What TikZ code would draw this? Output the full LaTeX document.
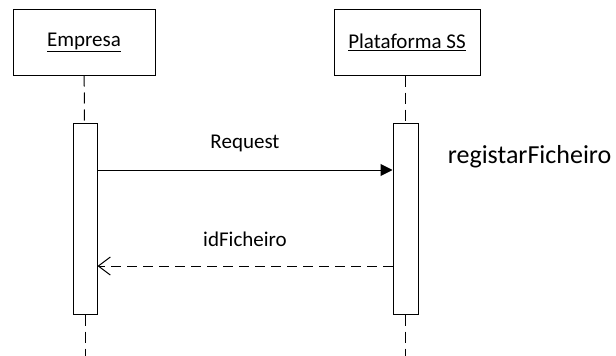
\documentclass[tikz,border=0pt]{standalone}
\usepackage{fontspec}
\setmainfont{Carlito}
\usetikzlibrary{arrows.meta,positioning}
\tikzset{
    actor/.style = {draw, rectangle,
        minimum width=142pt,
        minimum height=66pt, align=center, font=\fontsize{21}{24}\selectfont},
    activation/.style = {draw, rectangle, fill=white,
        minimum width=24pt, minimum height=191pt},
    lifeline/.style = {draw, dash pattern=on 11pt off 6pt},
    msg/.style = {font=\fontsize{21}{24}\selectfont},
    call/.style = {draw, -{Triangle[length=12pt,width=12pt]}},
    reply/.style = {draw, dash pattern=on 10pt off 6pt, -{Straight Barb[length=12pt,width=18pt]}}
}

\begin{document}
\begin{tikzpicture}[x=1pt, y=-1pt, line width=1pt]
        \useasboundingbox (0,0) rectangle (616,356);
        % participants
        \node [actor] (empresa) at (84,42) {\underline{Empresa}};
        \node [actor, minimum width=146pt] (plataforma) at (407,42) {\underline{Plataforma SS}};
        % activation bars
        \node [activation] (actE) at (85,218.5) {};
        \node [activation, minimum width=25pt] (actP) at (405.5,218.5) {};
        \coordinate (endE) at (85,356);
        \coordinate (endP) at (405.5,356);
        % lifelines
        \draw [lifeline] (empresa) -- (actE);
        \draw [lifeline] (actE) -- (endE);
        \draw [lifeline] (plataforma.south -| actP) -- (actP);
        \draw [lifeline] (actP) -- (endP);
        % messages
        \draw [call] ([yshift=48.5pt]actE.east) -- ([yshift=48.5pt]actP.west);
        \node [msg] (lblreq) at (245,143) {Request};
        \draw [reply] ([yshift=-47.5pt]actP.west) -- ([yshift=-47.5pt]actE.east);
        \node [msg] (lblid) at (245,239) {idFicheiro};
        \node [anchor=west, font=\fontsize{26}{30}\selectfont] (lblreg) at (444,157) {registarFicheiro};
\end{tikzpicture}
\end{document}
